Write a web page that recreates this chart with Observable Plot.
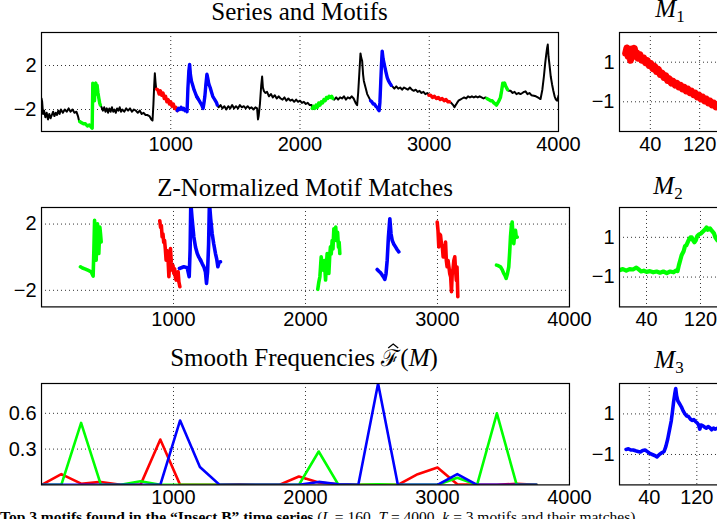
<!DOCTYPE html>
<html><head><meta charset="utf-8">
<script src="https://cdn.jsdelivr.net/npm/d3@7"></script>
<script src="https://cdn.jsdelivr.net/npm/@observablehq/plot@0.6"></script>
<style>
html,body{margin:0;padding:0;background:#fff;overflow:hidden;}
#fig{position:relative;width:717px;height:519px;overflow:hidden;background:#fff;}
.ttl{position:absolute;font-family:"Liberation Serif","Times New Roman",serif;font-size:25px;color:#000;white-space:nowrap;transform:translateX(-50%);line-height:18px;}
.ttl sub{font-size:17px;line-height:0;vertical-align:-5px;}
.hat{position:relative;display:inline-block;}
.hat svg{position:absolute;left:6px;top:-6px;overflow:visible;}
.cap{position:absolute;left:0;font-family:"Liberation Serif","Times New Roman",serif;font-size:15.5px;color:#000;white-space:nowrap;line-height:14px;}
</style></head><body><div id="fig"></div>
<script>
// ---------- data ----------
const motifColors = ["#ff0000", "#00ff00", "#0000ff"];
const motifL = 160;
const matchStart = [295, 890, 1050, 1200, 2094, 2546, 2997, 3446];
const matchMotif = [1, 0, 2, 2, 1, 2, 0, 1];

const seriesPts = [
[0,-1.0],[5,-1.3],[12,-2.4],[20,-2.1],[30,-2.7],[40,-2.3],[50,-2.9],[60,-2.4],[70,-2.8],[80,-2.5],[90,-2.2],[100,-2.6],[110,-2.3],[120,-2.5],[130,-2.1],[140,-2.4],[150,-2.0],[165,-2.3],[180,-2.0],[195,-2.2],[210,-1.9],[225,-2.2],[240,-2.0],[255,-2.3],[270,-2.2],[282,-2.6],[290,-3.0],
[295,-3.1],[310,-3.2],[325,-3.3],[340,-3.3],[355,-3.5],[370,-3.4],[385,-3.6],[392,-3.7],[397,0.4],[403,-0.4],[410,-1.2],[415,0.3],[420,0.4],[425,-0.6],[430,0.2],[437,-0.5],[444,-1.0],[450,-1.4],[455,-1.6],
[465,-1.8],[475,-2.1],[485,-1.8],[495,-2.2],[505,-1.9],[515,-2.3],[525,-1.9],[535,-2.2],[545,-1.8],[555,-2.2],[565,-2.0],[575,-2.3],[585,-1.9],[595,-2.1],[605,-1.8],[615,-2.2],[625,-2.0],[640,-2.2],[655,-1.9],[670,-2.1],[685,-1.9],[700,-2.2],[715,-2.0],[730,-2.1],[745,-2.3],[760,-2.1],[775,-2.4],[790,-2.3],[805,-2.5],[818,-2.5],[835,-2.6],[850,-2.9],[859,-3.0],[866,-1.5],[872,0.2],[877,1.3],[882,0.5],[887,-0.1],
[890,-0.15],[900,-0.2],[910,-0.6],[920,-0.3],[930,-0.7],[940,-0.5],[950,-1.0],[960,-0.8],[970,-1.3],[980,-1.1],[990,-1.5],[1000,-1.3],[1010,-1.7],[1020,-1.5],[1030,-1.9],[1040,-1.8],[1050,-2.1],
[1060,-1.9],[1070,-2.0],[1080,-1.8],[1090,-2.0],[1100,-1.9],[1110,-2.1],[1120,-2.0],[1126,-2.2],[1133,0.0],[1140,1.5],[1146,2.1],[1152,1.2],[1160,0.6],[1170,0.2],[1180,-0.2],[1190,-0.5],[1200,-0.8],[1210,-1.0],[1220,-1.2],[1230,-1.4],[1240,-1.6],[1250,-1.9],[1256,-1.5],[1264,-0.8],[1272,0.3],[1280,1.2],[1287,0.8],[1295,0.3],[1305,0.0],[1315,-0.4],[1325,-0.8],[1335,-1.0],[1345,-1.2],[1355,-1.4],[1360,-1.6],
[1370,-1.8],[1385,-1.6],[1400,-1.9],[1415,-1.7],[1430,-2.0],[1445,-1.7],[1460,-1.9],[1475,-1.6],[1490,-1.9],[1505,-1.7],[1520,-1.9],[1535,-1.6],[1550,-1.8],[1565,-1.7],[1580,-1.9],[1595,-1.7],[1610,-1.9],[1625,-1.8],[1640,-2.0],[1655,-1.8],[1668,-1.9],[1675,-2.9],[1680,-2.6],[1690,-1.5],[1700,0.2],[1707,1.0],[1713,0.0],[1720,-0.3],[1732,-0.5],[1745,-0.4],[1760,-0.8],[1775,-0.6],[1790,-0.9],[1805,-0.7],[1820,-1.0],[1835,-0.8],[1850,-1.0],[1865,-1.1],[1880,-0.9],[1895,-1.2],[1910,-1.0],[1925,-1.2],[1940,-1.1],[1955,-1.3],[1970,-1.1],[1985,-1.3],[2000,-1.2],[2015,-1.4],[2030,-1.3],[2045,-1.5],[2060,-1.4],[2075,-1.6],[2090,-1.6],
[2094,-1.9],[2105,-1.7],[2115,-1.9],[2125,-1.6],[2135,-1.8],[2145,-1.4],[2155,-1.6],[2165,-1.3],[2175,-1.4],[2185,-1.1],[2195,-1.2],[2205,-0.9],[2215,-1.0],[2225,-0.8],[2235,-0.9],[2245,-0.8],[2254,-1.0],
[2265,-1.1],[2280,-0.9],[2295,-1.1],[2310,-0.9],[2325,-1.0],[2340,-0.8],[2355,-1.1],[2370,-0.9],[2385,-1.0],[2400,-0.8],[2415,-1.0],[2430,-1.4],[2442,-1.6],[2450,-0.5],[2460,1.5],[2468,3.1],[2474,2.7],[2481,2.4],[2488,1.2],[2494,0.6],[2507,0.0],[2520,-0.6],[2533,-0.9],
[2546,-1.2],[2556,-1.3],[2566,-1.5],[2576,-1.5],[2586,-1.7],[2596,-1.8],[2605,-2.0],[2612,-2.1],[2618,-1.4],[2623,0.0],[2630,2.0],[2636,3.3],[2643,2.6],[2654,2.0],[2665,1.4],[2675,0.9],[2685,0.6],[2695,0.4],[2706,0.2],
[2715,0.1],[2730,-0.1],[2745,0.1],[2760,-0.1],[2775,0.0],[2790,-0.2],[2805,0.0],[2820,-0.1],[2835,-0.2],[2850,0.0],[2865,-0.2],[2880,-0.3],[2895,-0.2],[2910,-0.4],[2925,-0.3],[2940,-0.5],[2955,-0.4],[2970,-0.6],[2985,-0.5],
[2997,-0.7],[3010,-0.7],[3025,-0.9],[3040,-0.8],[3055,-1.0],[3070,-0.9],[3085,-1.1],[3100,-1.0],[3115,-1.2],[3130,-1.1],[3145,-1.3],[3157,-1.3],
[3170,-1.4],[3185,-1.6],[3195,-1.8],[3205,-1.6],[3215,-1.4],[3226,-1.2],[3240,-1.1],[3255,-1.0],[3270,-0.9],[3285,-1.0],[3300,-0.8],[3315,-0.9],[3330,-0.8],[3345,-0.9],[3360,-0.8],[3375,-0.9],[3390,-0.8],[3405,-0.9],[3420,-1.0],[3435,-0.9],
[3446,-1.0],[3460,-1.1],[3475,-1.2],[3487,-1.2],[3500,-1.4],[3512,-1.5],[3520,-1.6],[3530,-1.4],[3540,-1.2],[3551,-0.9],[3560,-0.3],[3569,0.4],[3576,0.2],[3583,0.4],[3590,0.15],[3597,0.0],[3606,-0.2],
[3615,-0.3],[3629,-0.3],[3645,-0.5],[3660,-0.4],[3675,-0.6],[3690,-0.5],[3706,-0.6],[3720,-0.5],[3733,-0.4],[3745,-0.35],[3760,-0.6],[3775,-0.5],[3790,-0.7],[3809,-0.75],[3825,-0.8],[3840,-0.9],[3853,-1.0],[3861,-1.05],[3875,-0.2],[3887,1.0],[3897,2.2],[3905,3.0],[3912,3.6],[3917,3.9],[3923,2.8],[3930,2.1],[3940,1.0],[3950,0.3],[3960,-0.3],[3970,-0.8],[3980,-1.1],[3990,-1.2],[4000,-0.75]
];

// z-normalized matches (same order as matchStart)
const zMatchX = [
 [295,310,333,355,376,391,397,402,408,414,419,424,429,434,438,442,447,452],
 [896,902,908,914,920,926,932,938,944,950,957,961,965,971,977,983,990,996,1002,1008,1014,1020,1027,1035,1041,1048],
 [1045,1078,1104,1119,1126,1131,1140,1154,1167,1180,1192,1205],
 [1205,1218,1230,1242,1250,1258,1266,1272,1282,1293,1305,1318,1327,1336,1346,1356],
 [2093,2101,2109,2114,2119,2126,2134,2143,2152,2158,2164,2170,2177,2183,2189,2195,2202,2208,2215,2222,2229,2236,2243,2250,2255,2260],
 [2543,2556,2570,2581,2592,2601,2610,2619,2628,2639,2648,2657,2668,2682,2695,2707],
 [2998,3004,3010,3016,3023,3030,3036,3043,3049,3055,3061,3067,3073,3080,3087,3093,3100,3106,3112,3118,3124,3131,3137,3143,3148,3154],
 [3447,3462,3477,3490,3502,3511,3520,3530,3540,3547,3553,3560,3566,3572,3578,3585,3591,3597,3604]
];
const zMatchY = [
 [-0.58,-0.65,-0.72,-0.8,-0.88,-1.14,0.5,2.22,1.0,-0.18,1.0,2.02,1.2,0.22,1.0,1.82,1.4,0.92],
 [2.2,1.8,1.9,1.22,1.4,0.9,1.02,0.5,-0.18,0.4,0.22,-0.5,-1.18,-0.2,0.52,-0.3,-0.78,-0.5,-0.98,-0.7,-1.2,-1.38,-0.9,-0.88,-1.5,-1.78],
 [-0.68,-0.58,-0.64,-1.18,0.5,3.3,2.4,1.22,0.6,0.22,0.0,-0.18],
 [-0.18,-0.4,-0.58,-0.9,-1.58,-0.9,0.8,3.3,2.3,1.42,0.8,0.22,-0.1,-0.58,-0.3,-0.28],
 [-1.94,-1.5,-1.18,-0.6,0.02,-0.5,-0.78,-0.2,-1.38,-0.5,0.22,-0.3,-0.98,0.0,0.62,0.2,1.0,0.5,1.72,1.2,1.82,1.0,1.5,0.6,0.9,0.22],
 [-0.74,-0.85,-0.95,-1.08,-1.2,-1.34,-1.0,-0.18,1.2,2.32,1.4,1.02,0.8,0.62,0.45,0.32],
 [2.12,1.6,0.62,1.4,1.32,0.8,0.7,0.02,0.5,0.3,0.92,-0.2,-0.58,-0.2,-0.6,-1.0,-1.2,-2.08,-0.9,-0.7,-0.2,0.02,-0.8,-1.4,-0.6,-2.38],
 [-0.48,-0.52,-0.58,-0.75,-0.98,-1.1,-1.28,-1.0,-0.58,0.3,1.22,1.9,2.12,1.3,0.82,1.4,1.62,1.2,1.22]
];

// smooth frequencies
const freqX = [0,150,300,450,600,750,900,1050,1200,1350,1500,1650,1800,1950,2100,2250,2400,2550,2700,2850,3000,3150,3300,3450,3600,3750];
const freqM1 = [0,0.09,0.01,0.025,0,0,0.38,0,0,0,0.005,0,0,0.07,0.02,0.005,0,0,0,0.09,0.145,0.005,0,0,0.01,0];
const freqM2 = [0,0,0.52,0,0,0.03,0,0,0,0,0,0,0,0,0.28,0,0,0.005,0,0,0,0.06,0,0.6,0,0];
const freqM3 = [0,0,0,0,0,0,0,0.54,0.15,0,0,0,0,0,0.025,0.005,0,0.85,0,0,0,0.09,0,0,0,0];

// motif shapes
const motif1 = [[0,1.45],[2,1.72],[4,1.3],[6,1.62],[8,1.1],[10,1.66],[12,1.4],[14,1.7],[16,1.3],[18,1.48],[20,1.2],[23,1.38],[26,1.1],[29,1.22],[32,0.98],[35,1.08],[38,0.84],[41,0.92],[44,0.68],[47,0.78],[50,0.53],[53,0.63],[56,0.38],[59,0.45],[62,0.23],[65,0.31],[68,0.08],[71,0.15],[74,-0.05],[77,0.03],[80,-0.15],[83,-0.07],[86,-0.25],[89,-0.17],[92,-0.35],[95,-0.27],[98,-0.45],[101,-0.37],[104,-0.53],[107,-0.47],[110,-0.63],[113,-0.57],[116,-0.75],[119,-0.67],[122,-0.85],[125,-0.77],[128,-0.95],[131,-0.87],[134,-1.05],[137,-0.97],[140,-1.15],[143,-1.07],[146,-1.25],[149,-1.17],[152,-1.33],[155,-1.27],[158,-1.4],[160,-1.38]];
const motif2 = [[0,-0.65],[5,-0.6],[10,-0.68],[15,-0.6],[20,-0.62],[25,-0.52],[28,-0.6],[32,-0.72],[36,-0.68],[40,-0.74],[45,-0.7],[50,-0.76],[55,-0.72],[60,-0.78],[65,-0.72],[70,-0.8],[75,-0.72],[80,-0.76],[84,-0.66],[86,-0.7],[88,-0.4],[90,-0.15],[92,0.1],[95,0.3],[97,0.55],[99,0.6],[101,0.75],[103,0.9],[105,1.0],[107,1.0],[109,0.85],[111,0.75],[113,0.85],[115,1.05],[118,1.15],[121,1.2],[124,1.3],[127,1.4],[129,1.5],[131,1.38],[134,1.45],[137,1.32],[140,1.2],[142,1.0],[145,0.85],[150,0.7],[155,0.6],[160,0.5]];
const motif3 = [[1,-0.75],[5,-0.72],[9,-0.78],[13,-0.78],[17,-0.82],[21,-0.85],[25,-0.88],[29,-0.8],[33,-0.78],[37,-0.86],[41,-0.95],[45,-1.0],[49,-1.05],[53,-1.12],[57,-1.0],[61,-0.92],[65,-0.85],[68,-0.6],[71,-0.25],[74,0.2],[77,0.65],[79,1.1],[81,1.6],[83,2.0],[84.5,2.25],[86,1.9],[88,1.65],[91,1.5],[94,1.35],[97,1.15],[100,1.0],[103,0.9],[106,0.87],[109,0.75],[112,0.68],[115,0.72],[118,0.62],[121,0.55],[123,0.45],[125,0.25],[127,0.45],[130,0.42],[133,0.35],[136,0.3],[139,0.38],[142,0.32],[145,0.22],[148,0.3],[151,0.25],[155,0.3],[160,0.28]];

const xTicksSeries = [1000, 2000, 3000, 4000];
const yTicksSeries = [-2, 2];
const yTicksFreq = [0.3, 0.6];
const xTicksMotif = [40, 120];
const yTicksMotif = [-1, 1];

// ---------- drawing ----------
const fig = document.getElementById("fig");
const fmt = d => (d < 0 ? "\u2212" + Math.abs(d) : String(d));

function panel({left, top, w, h, xDomain, yDomain, xTicks, yTicks, marks}) {
  const ml = 45, mr = 3, mt = 3, mb = 32;
  const svg = Plot.plot({
    width: w + ml + mr, height: h + mt + mb,
    marginLeft: ml, marginRight: mr, marginTop: mt, marginBottom: mb,
    x: {domain: xDomain, label: null},
    y: {domain: yDomain, label: null},
    style: {background: "transparent", fontFamily: "'Liberation Sans', Arial, sans-serif", fontSize: "20px", color: "#000", maxWidth: "none", overflow: "visible"},
    marks: [
      Plot.gridX(xTicks, {stroke: "#333", strokeOpacity: 1, strokeWidth: 1, strokeDasharray: "1,3"}),
      Plot.gridY(yTicks, {stroke: "#333", strokeOpacity: 1, strokeWidth: 1, strokeDasharray: "1,3"}),
      ...marks,
      Plot.frame({stroke: "#000", strokeWidth: 1.2}),
      Plot.axisX(xTicks, {tickSize: 0, tickPadding: 5, tickFormat: fmt, fontSize: 20, label: null}),
      Plot.axisY(yTicks, {tickSize: 0, tickPadding: 5, tickFormat: fmt, fontSize: 20, label: null})
    ]
  });
  svg.style.position = "absolute";
  svg.style.left = (left - ml) + "px";
  svg.style.top = (top - mt) + "px";
  fig.appendChild(svg);
}

function title(html, cx, baseline) {
  const d = document.createElement("div");
  d.className = "ttl";
  d.innerHTML = html;
  d.style.left = cx + "px";
  d.style.top = Math.max(0, baseline - 17.4) + "px";
  fig.appendChild(d);
}

const lineOpts = (color, width) => ({x: d => d[0], y: d => d[1], stroke: color, strokeWidth: width, strokeLinejoin: "round", strokeLinecap: "round", clip: true});

// Panel 1: series and motifs
const segMarks = matchStart.map((s, i) =>
  Plot.line(seriesPts.filter(p => p[0] >= s && p[0] <= s + motifL), lineOpts(motifColors[matchMotif[i]], 3.4)));
panel({left: 41, top: 32, w: 517, h: 99, xDomain: [0, 4000], yDomain: [-4, 5],
  xTicks: xTicksSeries, yTicks: yTicksSeries,
  marks: [Plot.line(seriesPts, lineOpts("#000", 2)), ...segMarks]});

// Panel 2: z-normalized matches
const zMarks = matchStart.map((s, i) =>
  Plot.line(zMatchX[i].map((x, j) => [x, zMatchY[i][j]]), lineOpts(motifColors[matchMotif[i]], 3.6)));
panel({left: 41, top: 207.3, w: 528, h: 99.4, xDomain: [0, 4000], yDomain: [-3, 3],
  xTicks: xTicksSeries, yTicks: yTicksSeries, marks: zMarks});

// Panel 3: smooth frequencies
const freqs = [freqM1, freqM2, freqM3];
const fMarks = freqs.map((f, k) => Plot.line(freqX.map((x, j) => [x, f[j]]), lineOpts(motifColors[k], 2.6)));
panel({left: 41, top: 383.3, w: 528, h: 101.4, xDomain: [0, 4000], yDomain: [0, 0.85],
  xTicks: xTicksSeries, yTicks: yTicksFreq, marks: fMarks});

// Motif panels
panel({left: 619.3, top: 32, w: 111, h: 99, xDomain: [-10, 170], yDomain: [-2.5, 2.5],
  xTicks: xTicksMotif, yTicks: yTicksMotif, marks: [Plot.line(motif1, lineOpts(motifColors[0], 7))]});
panel({left: 619.3, top: 207.3, w: 108, h: 99.4, xDomain: [0, 160], yDomain: [-2.5, 2.5],
  xTicks: xTicksMotif, yTicks: yTicksMotif, marks: [Plot.line(motif2, lineOpts(motifColors[1], 4.2))]});
panel({left: 619.3, top: 383.3, w: 113, h: 101.4, xDomain: [-10, 180], yDomain: [-2.5, 2.5],
  xTicks: xTicksMotif, yTicks: yTicksMotif, marks: [Plot.line(motif3, lineOpts(motifColors[2], 3.6))]});

// Titles
const hatSvg = '<svg width="12" height="6" viewBox="0 0 12 6"><polyline points="1,5 6,1 11,5" fill="none" stroke="#000" stroke-width="1.3"/></svg>';
title("Series and Motifs", 299.5, 20.5);
title("Z-Normalized Motif Matches", 305, 196);
title("Smooth Frequencies <span class=\"hat\"><span style=\"font-family:'DejaVu Serif';font-size:23px\">\u2131</span>" + hatSvg + "</span>(<i>M</i>)", 304, 366);
title("<i>M</i><sub>1</sub>", 670, 17.4);
title("<i>M</i><sub>2</sub>", 668, 194);
title("<i>M</i><sub>3</sub>", 669, 368);

// Caption (cut off at the bottom of the picture)
const cap = document.createElement("div");
cap.className = "cap";
cap.style.top = "510px";
cap.innerHTML = "<b>Top 3 motifs found in the \u201cInsect B\u201d time series</b> (<i>L</i> = 160, <i>T</i> = 4000, <i>k</i> = 3 motifs and their matches)";
fig.appendChild(cap);
</script></body></html>
